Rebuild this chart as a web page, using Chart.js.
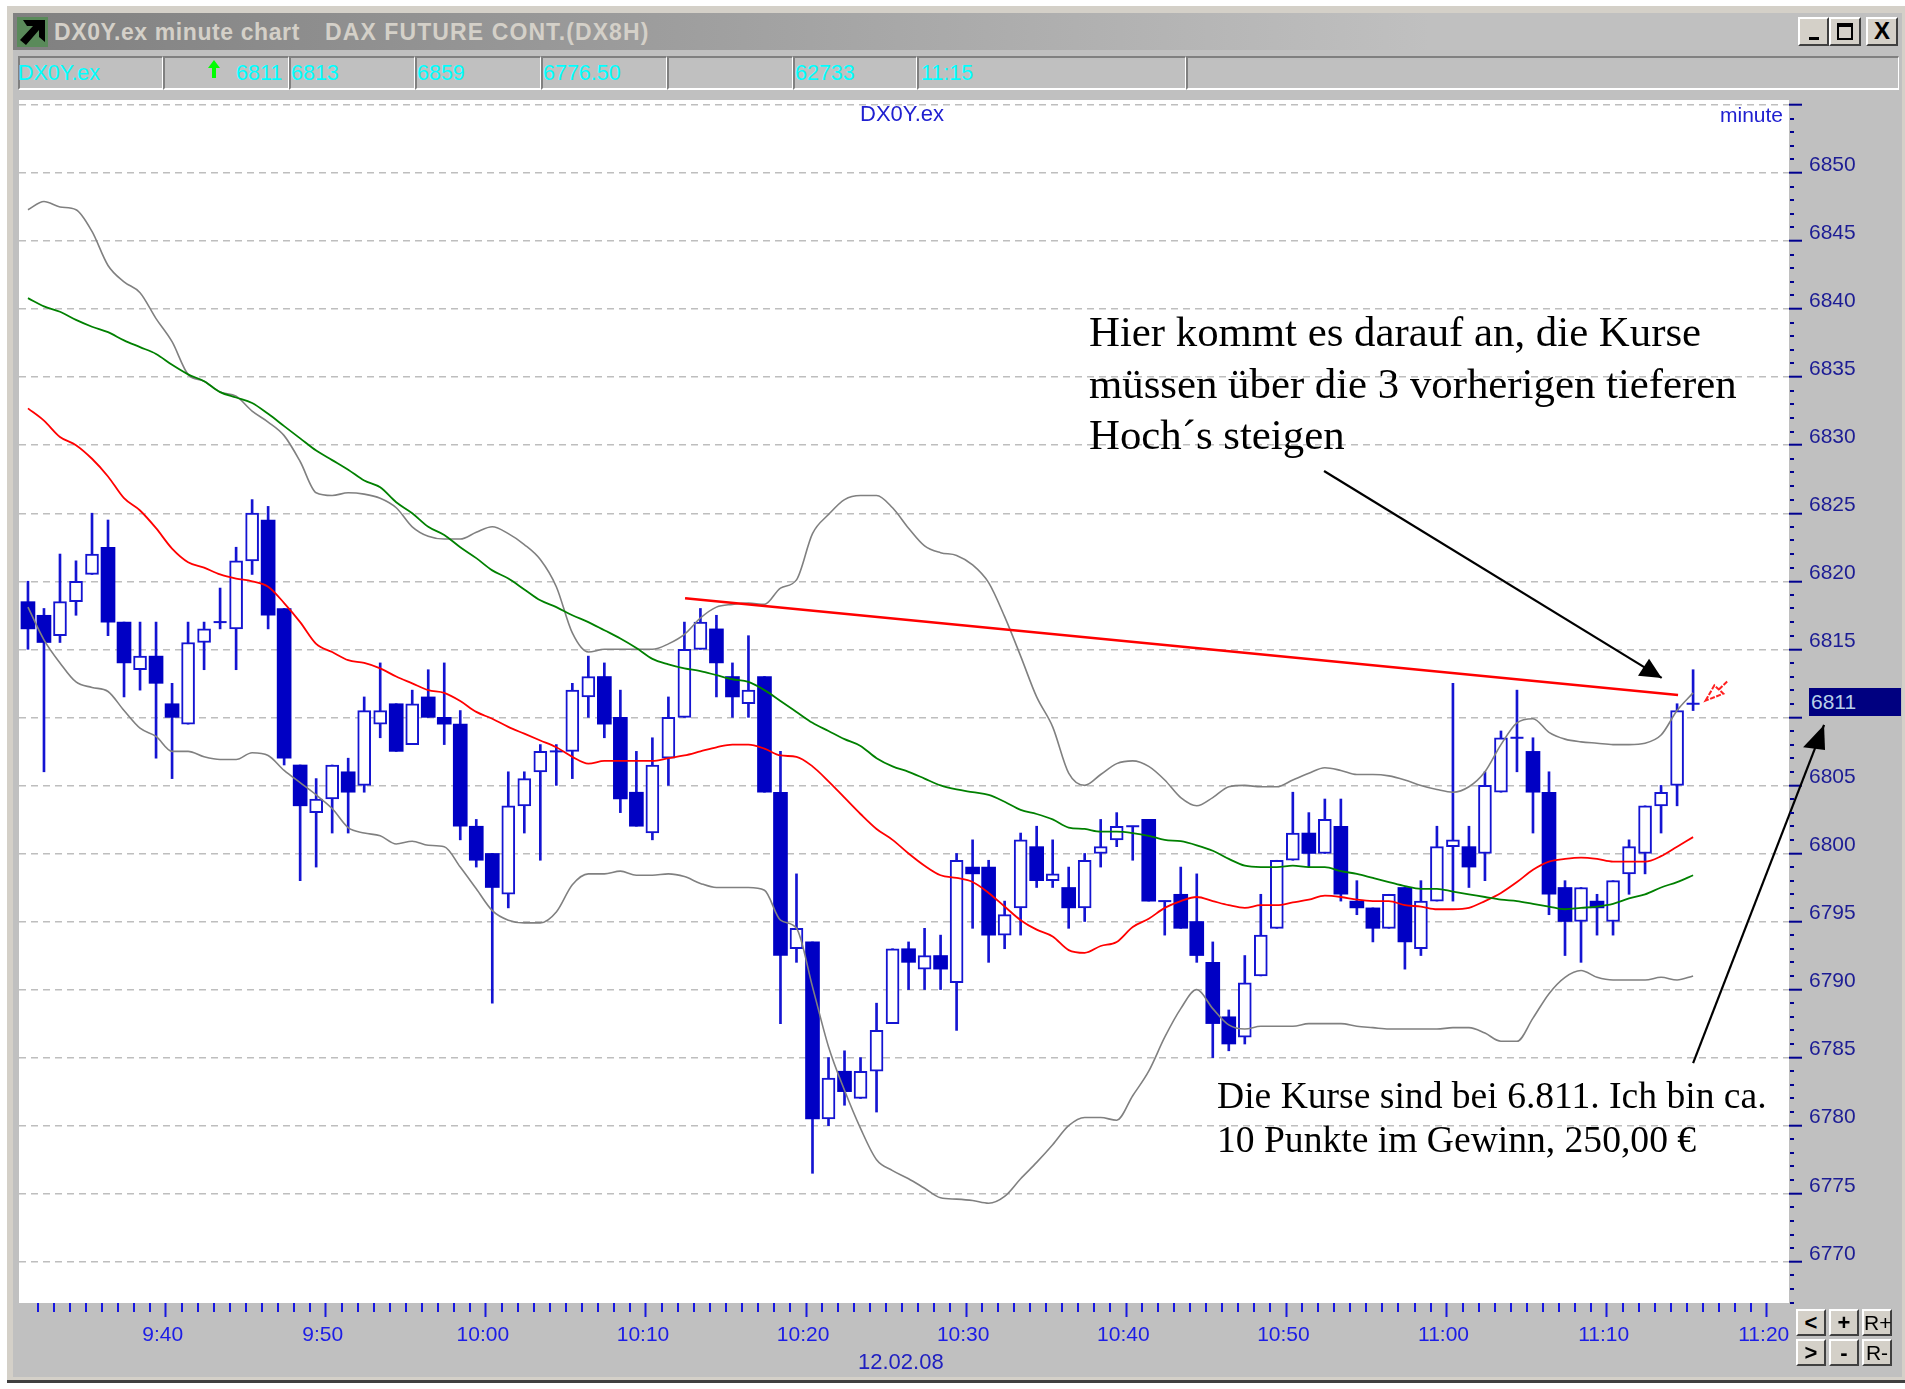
<!DOCTYPE html>
<html lang="de">
<head>
<meta charset="utf-8">
<title>DX0Y.ex minute chart</title>
<script src="https://cdn.jsdelivr.net/npm/chart.js@4/dist/chart.umd.min.js"></script>
<style>
html,body{margin:0;padding:0;background:#fff;width:1905px;height:1389px;overflow:hidden}
.abs{position:absolute;white-space:pre}
#frame{left:7px;top:6px;width:1898px;height:1374px;background:#D4D0C8;border-bottom:3px solid #404040;box-sizing:content-box}
#panel{left:13px;top:50px;width:1889px;height:1327px;background:#C0C0C0}
#titlebar{left:13px;top:13px;width:1889px;height:37px;background:linear-gradient(90deg,#808080,#C0C0C0 75%)}
#title{left:54px;top:17px;font:bold 23px/30px "Liberation Sans";color:#D4D0C8;letter-spacing:.6px}
#title2{left:325px;top:17px;font:bold 23px/30px "Liberation Sans";color:#D4D0C8;letter-spacing:1.1px}
#plot{left:19px;top:100px;width:1770px;height:1203px;background:#fff}
.cell{position:absolute;top:56px;height:34px;box-sizing:border-box;border-top:2px solid #808080;border-left:2px solid #808080;border-right:1px solid #fff;border-bottom:2px solid #fff}
.st{position:absolute;top:58px;font:21.5px/30px "Liberation Sans";color:#00FFFF;white-space:pre}
.btn{position:absolute;box-sizing:border-box;background:#D4D0C8;border:2px solid;border-color:#fff #404040 #404040 #fff;text-align:center;font:bold 22px/24px "Liberation Sans";color:#000}
.lbl{position:absolute;font:22px/24px "Liberation Sans";color:#2020D0;white-space:pre}
.ann{position:absolute;font-family:"Liberation Serif";color:#000;white-space:pre}
canvas{position:absolute;left:0;top:0}
</style>
</head>
<body>
<div id="frame" class="abs"></div>
<div id="panel" class="abs"></div>
<div id="titlebar" class="abs"></div>
<svg class="abs" style="left:17px;top:17px" width="31" height="30" viewBox="0 0 31 30"><rect width="31" height="30" fill="#5A8A5A"/><path d="M6 3H28V25L22 20V13L9 28L3 23L16 9H10Z" fill="#000"/></svg>
<div id="title" class="abs">DX0Y.ex minute chart</div>
<div id="title2" class="abs">DAX FUTURE CONT.(DX8H)</div>
<div class="btn" style="left:1798px;top:17px;width:31px;height:29px"><div style="position:absolute;left:9px;top:18px;width:10px;height:3px;background:#000"></div></div>
<div class="btn" style="left:1829px;top:17px;width:32px;height:29px"><div style="margin:4px 6px;height:17px;border:2px solid #000;border-top-width:4px;box-sizing:border-box"></div></div>
<div class="btn" style="left:1866px;top:17px;width:32px;height:29px;font-size:24px">X</div>

<div class="cell" style="left:18px;width:145px"></div>
<div class="cell" style="left:163px;width:126px"></div>
<div class="cell" style="left:289px;width:126px"></div>
<div class="cell" style="left:415px;width:126px"></div>
<div class="cell" style="left:541px;width:126px"></div>
<div class="cell" style="left:667px;width:126px"></div>
<div class="cell" style="left:793px;width:124px"></div>
<div class="cell" style="left:917px;width:269px"></div>
<div class="cell" style="left:1186px;width:713px"></div>
<div class="st" style="left:18px">DX0Y.ex</div>
<svg class="abs" style="left:206px;top:59px" width="16" height="20" viewBox="0 0 16 20"><path d="M8 1L14 9H10V19H6V9H2Z" fill="#00FF00"/></svg>
<div class="st" style="left:236px">6811</div>
<div class="st" style="left:291px">6813</div>
<div class="st" style="left:417px">6859</div>
<div class="st" style="left:543px">6776.50</div>
<div class="st" style="left:795px">62733</div>
<div class="st" style="left:921px">11:15</div>

<div id="plot" class="abs"></div>
<canvas id="c" width="1905" height="1389"></canvas>

<div class="lbl" style="left:860px;top:102px">DX0Y.ex</div>
<div class="lbl" style="left:1720px;top:103px;font-size:21px">minute</div>
<div class="abs" style="left:1809px;top:688px;width:92px;height:28px;background:#000080"></div>
<div class="lbl" style="left:1811px;top:690px;color:#B8D0E8;font-size:21px">6811</div>
<div class="lbl" style="left:858px;top:1350px;color:#2020C0">12.02.08</div>

<div class="ann" style="left:1089px;top:306px;font-size:42.8px;line-height:51.5px">Hier kommt es darauf an, die Kurse
müssen über die 3 vorherigen tieferen
Hoch´s steigen</div>
<div class="ann" style="left:1217px;top:1074px;font-size:37.6px;line-height:44px">Die Kurse sind bei 6.811. Ich bin ca.
10 Punkte im Gewinn, 250,00 €</div>

<div class="btn" style="left:1796px;top:1309px;width:30px;height:27px">&lt;</div>
<div class="btn" style="left:1829px;top:1309px;width:30px;height:27px">+</div>
<div class="btn" style="left:1862px;top:1309px;width:30px;height:27px;font-weight:normal;font-size:21px">R+</div>
<div class="btn" style="left:1796px;top:1339px;width:30px;height:27px">&gt;</div>
<div class="btn" style="left:1829px;top:1339px;width:30px;height:27px">-</div>
<div class="btn" style="left:1862px;top:1339px;width:30px;height:27px;font-weight:normal;font-size:21px">R-</div>

<script>
// Candle values, one entry per minute candle.
const opens = [6818.5,6817.5,6816,6818.5,6820.5,6822.5,6817,6813.5,6814.5,6811,6809.5,6815.5,6817,6816.5,6821.5,6824.5,6818,6806.5,6803,6804,6806,6805,6809.5,6811,6808,6811.5,6810,6809.5,6802,6800,6797,6803.5,6806,6807.5,6807.5,6811.5,6813,6810,6804.5,6801.5,6807,6810,6815,6816.5,6813,6811,6813,6804.5,6793,6793.5,6780.5,6784,6782,6784,6787.5,6793,6791.5,6792.5,6790.5,6799,6799,6794,6796,6800.5,6798,6797.5,6796,6800,6801,6802,6802.5,6796.5,6797,6795,6792,6788,6786.5,6791,6794.5,6799.5,6801.5,6800,6802,6796.5,6796,6794.5,6797.5,6793,6796.5,6800.5,6800.5,6800,6804.5,6808.5,6807.5,6804.5,6797.5,6795,6796.5,6795,6798.5,6800,6803.5,6805,6811];
const highs = [6820,6818,6822,6821.5,6825,6824.5,6817,6817,6817,6812.5,6817,6817,6819.5,6822.5,6826,6825.5,6818,6806.5,6805.5,6806.5,6807,6811.5,6814,6811,6812,6813.5,6814,6810.5,6802.5,6800,6806,6806,6808,6808,6812.5,6814.5,6814,6812,6807.5,6808.5,6811.5,6817,6818,6817.5,6814,6816,6813,6807.5,6798.5,6793.5,6785,6785.5,6785,6789,6793,6793.5,6794.5,6794,6800,6801,6799.5,6796.5,6801.5,6802,6801,6799,6800,6802.5,6803,6802,6802.5,6796.5,6799,6798.5,6793.5,6788.5,6792.5,6797,6799.5,6804.5,6803,6804,6804,6798,6796,6797,6797.5,6798,6802,6812.5,6802,6806,6809,6812,6808.5,6806,6798,6797.5,6797,6798,6801,6803.5,6805,6811,6813.5];
const lows = [6815,6806,6815.5,6817.5,6820.5,6816,6811.5,6812,6807,6805.5,6809.5,6813.5,6816.5,6813.5,6820.5,6816.5,6806.5,6798,6799,6801.5,6801.5,6804.5,6808.5,6807.5,6808,6810,6808,6801,6799,6789,6796,6801.5,6799.5,6805,6805.5,6810,6808.5,6803,6802,6801,6805,6810,6815,6811.5,6810,6810,6804.5,6787.5,6792,6776.5,6780,6781.5,6782,6781,6787.5,6790,6790,6790,6787,6794.5,6792,6793,6794,6797.5,6797.5,6794.5,6795,6799,6800.5,6799.5,6796.5,6794,6794.5,6792,6785,6785.5,6786,6791,6794.5,6799.5,6799,6800,6796.5,6795.5,6793.5,6794.5,6791.5,6792.5,6796.5,6796.5,6797.5,6798,6804.5,6806,6801.5,6795.5,6792.5,6792,6794,6794,6797,6798.5,6801.5,6803.5,6810.5];
const closes = [6816.5,6815.5,6818.5,6820,6822,6817,6814,6814.5,6812.5,6810,6815.5,6816.5,6817,6821.5,6825,6817.5,6807,6803.5,6804,6806.5,6804.5,6810.5,6810.5,6807.5,6811,6810,6809.5,6802,6799.5,6797.5,6803.5,6805.5,6807.5,6807.5,6812,6813,6809.5,6804,6802,6806.5,6810,6815,6817,6814,6811.5,6812,6804.5,6792.5,6794.5,6780.5,6783.5,6782.5,6784,6787,6793,6792,6792.5,6791.5,6799.5,6798.5,6794,6795.5,6801,6798,6798.5,6796,6799.5,6800.5,6802,6802,6796.5,6796.5,6794.5,6792.5,6787.5,6786,6790.5,6794,6799.5,6801.5,6800,6802.5,6797,6796,6794.5,6797,6793.5,6796.5,6800.5,6801,6799,6805,6808.5,6808.5,6804.5,6797,6795,6797.5,6796,6798,6800.5,6803.5,6804.5,6810.5,6811];

// Indicator lines, one entry per candle.
const upperBand = [6847.3,6847.9,6847.5,6847.3,6845.7,6843.2,6842,6841.2,6839.3,6837.6,6835.2,6834.7,6833.9,6833.6,6832.5,6831.7,6830.7,6828.8,6826.5,6826.3,6826.5,6826.4,6826.1,6825.4,6824,6823.3,6823.1,6823.1,6823.6,6824,6823.5,6822.7,6821.6,6819.6,6816.2,6814.8,6815,6815,6815,6815,6815.4,6816.1,6817.3,6818.1,6818.3,6818.4,6818.3,6819.5,6820.1,6823.5,6824.9,6826,6826.3,6826.3,6825.4,6823.9,6822.6,6822.1,6821.9,6821.2,6819.9,6817.4,6814.5,6811.5,6809.3,6805.9,6805,6805.8,6806.6,6806.8,6806.4,6805.4,6804.1,6803.5,6804.1,6804.9,6805,6804.9,6804.9,6805.4,6805.9,6806.3,6806.1,6805.8,6805.8,6805.7,6805.4,6805,6804.7,6804.5,6804.9,6806,6808,6809.6,6809.9,6808.9,6808.4,6808.2,6808.1,6808,6808,6808.1,6808.7,6810.5,6811.8];
const lowerBand = [6818.1,6815.7,6814,6812.6,6812.2,6811.9,6810.5,6809.2,6808.6,6807.5,6807.5,6807.1,6806.9,6806.9,6807.4,6807.2,6806.1,6805.2,6804.3,6803.3,6801.9,6801.5,6801.3,6800.7,6800.9,6800.6,6800.5,6799,6797.4,6795.8,6795.1,6794.9,6794.9,6795.7,6797.7,6798.5,6798.5,6798.7,6798.4,6798.4,6798.5,6798.3,6797.8,6797.5,6797.5,6797.5,6797.3,6795.1,6794.5,6790.2,6785.8,6782.6,6779.8,6777.5,6776.7,6776.1,6775.4,6774.7,6774.6,6774.5,6774.3,6774.8,6776.1,6777.3,6778.6,6780,6780.6,6780.6,6780.4,6782.2,6784,6786.5,6788.6,6790,6788.6,6787.4,6787.1,6787.3,6787.3,6787.3,6787.5,6787.5,6787.5,6787.3,6787.2,6787.1,6787.1,6787.1,6787.1,6787.2,6787.2,6786.8,6786.2,6786.2,6787.9,6789.7,6790.9,6791.4,6790.9,6790.7,6790.7,6790.7,6790.9,6790.7,6791];
const redAverage = [6832.7,6831.8,6830.6,6830,6829,6827.7,6826.1,6825.2,6823.9,6822.4,6821.4,6821,6820.5,6820.2,6820,6819.6,6818.4,6817,6815.4,6814.8,6814.2,6814,6813.6,6813,6812.5,6812,6811.8,6811.2,6810.4,6809.9,6809.3,6808.8,6808.3,6807.8,6807.1,6806.6,6806.8,6806.8,6806.8,6806.8,6807,6807.2,6807.5,6807.8,6808,6808,6807.7,6807.2,6807.1,6806.4,6805.3,6804.1,6802.9,6801.8,6801,6800,6799.1,6798.4,6798.2,6797.9,6797.1,6796.1,6795.1,6794.4,6793.9,6792.9,6792.7,6793.2,6793.5,6794.6,6795.2,6796,6796.5,6796.8,6796.5,6796.2,6796,6796.2,6796.2,6796.4,6796.6,6796.9,6796.8,6796.6,6796.5,6796.5,6796.2,6796.1,6795.9,6795.9,6796,6796.5,6797.1,6797.9,6798.8,6799.4,6799.6,6799.7,6799.6,6799.4,6799.4,6799.4,6799.8,6800.5,6801.2];
const greenAverage = [6840.8,6840.2,6839.8,6839.2,6838.7,6838.3,6837.7,6837.2,6836.7,6835.9,6835.2,6834.7,6833.9,6833.5,6833.1,6832.3,6831.4,6830.5,6829.6,6828.9,6828.2,6827.4,6826.9,6825.8,6825,6824,6823.4,6822.5,6821.7,6820.8,6820.2,6819.4,6818.6,6818.1,6817.5,6817,6816.4,6815.8,6815.1,6814.3,6813.9,6813.6,6813.4,6813.1,6812.8,6812.6,6812,6811.2,6810.4,6809.6,6809,6808.4,6807.9,6807,6806.4,6806,6805.5,6805,6804.7,6804.5,6804.3,6803.8,6803.2,6802.9,6802.5,6801.9,6801.8,6801.6,6801.6,6801.5,6801.3,6801,6800.9,6800.6,6800.2,6799.6,6799.1,6799,6799,6799.1,6799,6799,6798.7,6798.5,6798.2,6797.9,6797.6,6797.4,6797.4,6797.2,6797,6796.8,6796.6,6796.5,6796.3,6796.1,6795.9,6796,6796.1,6796.3,6796.7,6797,6797.5,6797.9,6798.4];

// Axis ticks: minutes since midnight and their labels.
const xTickMinutes = [580,590,600,610,620,630,640,650,660,670,680];
const xTickLabels = ["9:40","9:50","10:00","10:10","10:20","10:30","10:40","10:50","11:00","11:10","11:20"];
const yTicks = [6770,6775,6780,6785,6790,6795,6800,6805,6810,6815,6820,6825,6830,6835,6840,6845,6850,6855];
const yTickLabels = ["6770","6775","6780","6785","6790","6795","6800","6805","6810","6815","6820","6825","6830","6835","6840","6845","6850",""];

// Hand-drawn annotations, as (minute, price) pairs.
const trendMinutes = [612.44,674.46];
const trendPrices = [6818.75,6811.64];
const arrowOne = [[652.35,6828.1],[673.44,6812.9]];
const arrowOneHead = [[673.44,6812.9],[672.65,6814.3],[671.96,6813.05]];
const arrowTwo = [[675.4,6784.6],[683.58,6809.44]];
const arrowTwoHead = [[683.58,6809.44],[682.27,6807.8],[683.64,6807.6]];
const redArrowHead = [[676.18,6811.23],[676.73,6812.35],[677.29,6811.74]];
const redArrowTail = [[677.01,6812.05],[677.54,6812.65]];

const firstCandleMinute = 571.4;
const candleMinutes = opens.map((_, i) => firstCandleMinute + i);
const BLUE = '#0000C4', STROKE = '#1414D2';
const pick = test => candleMinutes.map((x, i) => ({x, y: [opens[i], closes[i]], i})).filter(d => test(opens[d.i], closes[d.i]));
const lineOf = arr => arr.map((y, i) => ({x: candleMinutes[i], y}));
const lineStyle = {type: 'line', pointRadius: 0, cubicInterpolationMode: 'monotone', fill: false};

const extras = {
  id: 'extras',
  afterDatasetsDraw(chart) {
    const {ctx, scales: {x, y}} = chart;
    const px = p => [x.getPixelForValue(p[0]), y.getPixelForValue(p[1])];
    const path = (pts, close) => {
      ctx.beginPath();
      pts.map(px).forEach((p, i) => i ? ctx.lineTo(p[0], p[1]) : ctx.moveTo(p[0], p[1]));
      if (close) ctx.closePath();
    };
    ctx.save();
    ctx.strokeStyle = ctx.fillStyle = '#000';
    ctx.lineWidth = 2.2;
    path(arrowOne); ctx.stroke();
    path(arrowOneHead, true); ctx.fill();
    path(arrowTwo); ctx.stroke();
    path(arrowTwoHead, true); ctx.fill();
    ctx.strokeStyle = '#FF2020';
    ctx.lineWidth = 2;
    ctx.setLineDash([5, 1.5]);
    path(redArrowHead, true); ctx.stroke();
    path(redArrowTail); ctx.stroke();
    ctx.setLineDash([]);
    // minor ticks
    ctx.fillStyle = '#000090';
    for (let v = 6767; v <= 6855; v++) {
      if (v % 5 === 0 && v >= 6770) continue;
      ctx.fillRect(1790, Math.round(y.getPixelForValue(v)) - 1, 4, 2);
    }
    ctx.fillStyle = '#1818E0';
    for (let m = 572; m <= 680; m++) {
      if (m % 10 === 0) continue;
      ctx.fillRect(Math.round(x.getPixelForValue(m)) - 1, 1303, 2, 9);
    }
    ctx.restore();
  }
};

new Chart(document.getElementById('c'), {
  type: 'bar',
  data: {
    datasets: [
      {type: 'line', data: trendMinutes.map((x, i) => ({x, y: trendPrices[i]})), borderColor: '#FF0000', borderWidth: 2.6, pointRadius: 0, order: 0},
      {...lineStyle, data: lineOf(greenAverage), borderColor: '#008000', borderWidth: 1.8, order: 1},
      {...lineStyle, data: lineOf(redAverage), borderColor: '#FF0000', borderWidth: 1.8, order: 1},
      {...lineStyle, data: lineOf(upperBand), borderColor: '#808080', borderWidth: 1.6, order: 2},
      {...lineStyle, data: lineOf(lowerBand), borderColor: '#808080', borderWidth: 1.6, order: 2},
      {type: 'line', showLine: false, data: pick((o, c) => o === c).map(d => ({x: d.x, y: d.y[0]})), pointStyle: 'line', pointRadius: 6.5, pointBorderColor: STROKE, pointBorderWidth: 2, order: 3},
      {type: 'bar', data: pick((o, c) => c > o), backgroundColor: '#fff', borderColor: STROKE, borderWidth: 2, borderSkipped: false, barThickness: 13, grouped: false, order: 4},
      {type: 'bar', data: pick((o, c) => c < o), backgroundColor: BLUE, barThickness: 14, grouped: false, order: 4},
      {type: 'bar', data: candleMinutes.map((x, i) => ({x, y: [lows[i], highs[i]]})), backgroundColor: STROKE, barThickness: 2, grouped: false, order: 5}
    ]
  },
  options: {
    responsive: false,
    animation: false,
    layout: {padding: {left: 19, top: 100, right: 0, bottom: 0}},
    plugins: {legend: {display: false}, tooltip: {enabled: false}},
    scales: {
      x: {
        type: 'linear', min: 570.84, max: 681.39, offset: false,
        afterBuildTicks: s => { s.ticks = xTickMinutes.map(value => ({value})); },
        afterFit: s => { s.height = 86; },
        grid: {drawOnChartArea: false, drawTicks: true, tickLength: 14, tickWidth: 2, tickColor: '#1818E0', offset: false},
        border: {display: false},
        ticks: {
          autoSkip: false, maxRotation: 0, minRotation: 0, padding: 6, labelOffset: -3, color: '#1C1CE6',
          font: {family: '"Liberation Sans"', size: 21},
          callback: v => xTickLabels[xTickMinutes.indexOf(v)]
        }
      },
      y: {
        type: 'linear', position: 'right', min: 6766.97, max: 6855.36,
        afterBuildTicks: s => { s.ticks = yTicks.map(value => ({value})); },
        afterFit: s => { s.width = 116; },
        grid: {color: '#BEBEBE', lineWidth: 1.4, tickLength: 13, tickWidth: 2, tickColor: '#000090', tickBorderDash: []},
        border: {display: false, dash: [7, 5]},
        ticks: {
          autoSkip: false, padding: 7, labelOffset: -8, color: '#1C1C94',
          font: {family: '"Liberation Sans"', size: 21},
          callback: v => yTickLabels[yTicks.indexOf(v)]
        }
      }
    }
  },
  plugins: [extras]
});
</script>
</body>
</html>
